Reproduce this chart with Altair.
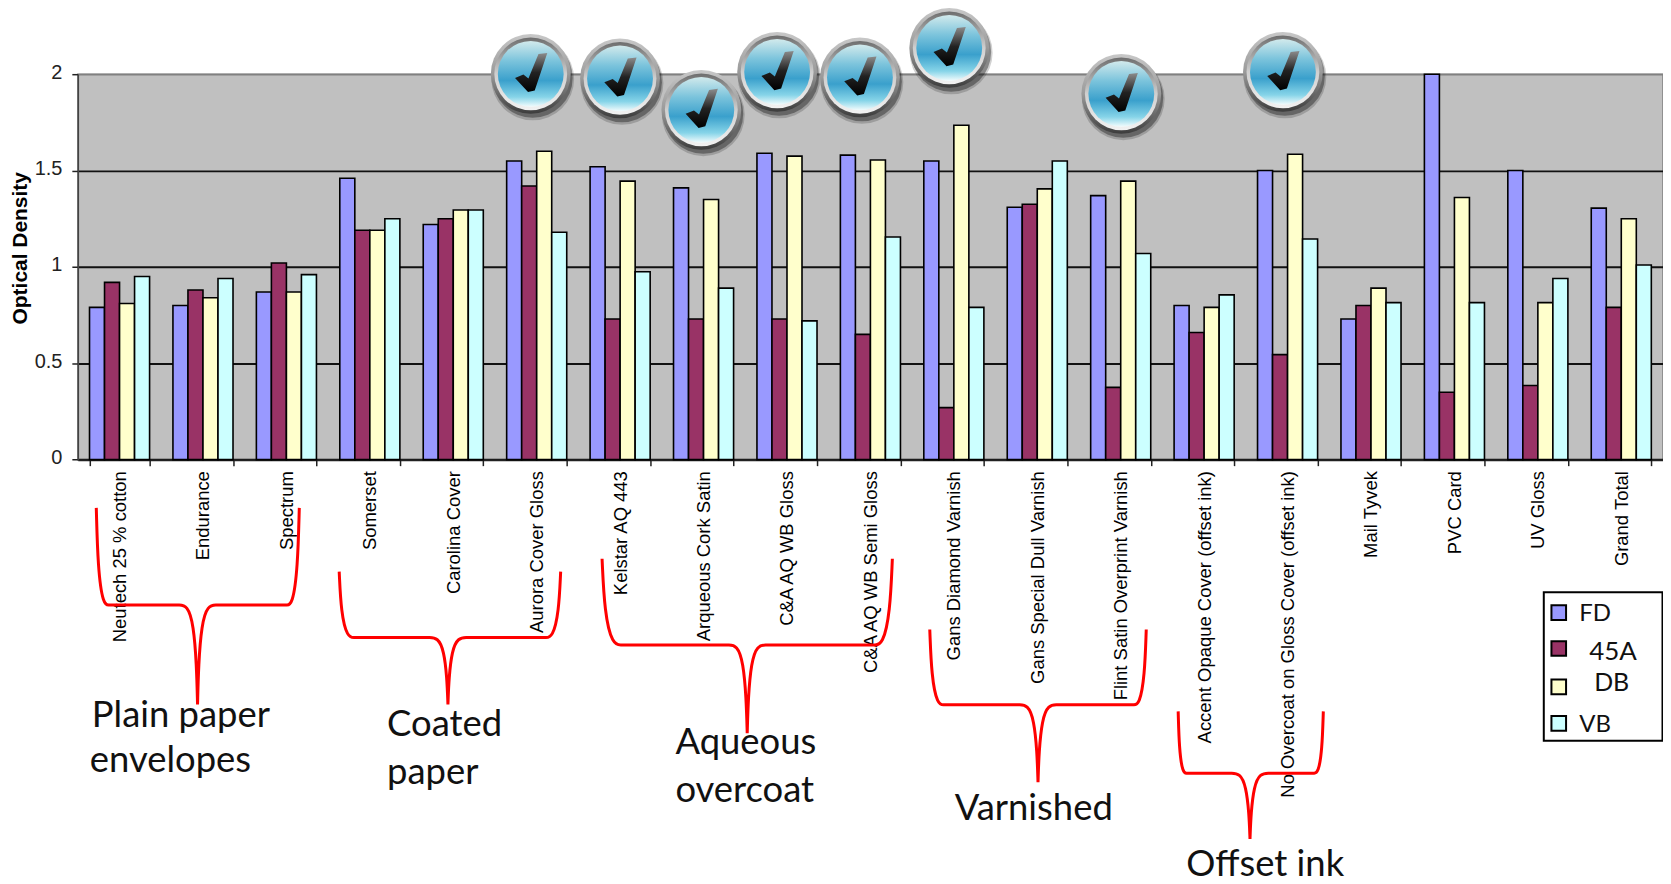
import altair as alt
import pandas as pd

categories = ["Neutech 25 % cotton", "Endurance", "Spectrum", "Somerset", "Carolina Cover",
              "Aurora Cover Gloss", "Kelstar AQ 443", "Arqueous Cork Satin", "C&A AQ WB Gloss",
              "C&A AQ WB Semi Gloss", "Gans Diamond Varnish", "Gans Special Dull Varnish",
              "Flint Satin Overprint Varnish", "Accent Opaque Cover (offset ink)",
              "No Overcoat on Gloss Cover (offset ink)", "Mail Tyvek", "PVC Card", "UV Gloss",
              "Grand Total"]
series_names = ["FD", "45A", "DB", "VB"]
series_colors = ["#9999FF", "#993366", "#FFFFCC", "#CCFFFF"]
fd = [0.79, 0.80, 0.87, 1.46, 1.22, 1.55, 1.52, 1.41, 1.59, 1.58, 1.55, 1.31, 1.37, 0.80, 1.50, 0.73, 2.00, 1.50, 1.305]
a45 = [0.92, 0.88, 1.02, 1.19, 1.25, 1.42, 0.73, 0.73, 0.73, 0.65, 0.27, 1.325, 0.375, 0.66, 0.545, 0.80, 0.35, 0.385, 0.79]
db = [0.81, 0.84, 0.87, 1.19, 1.295, 1.60, 1.445, 1.35, 1.575, 1.555, 1.735, 1.405, 1.445, 0.79, 1.585, 0.89, 1.36, 0.815, 1.25]
vb = [0.95, 0.94, 0.96, 1.25, 1.295, 1.18, 0.975, 0.89, 0.72, 1.155, 0.79, 1.55, 1.07, 0.855, 1.145, 0.815, 0.815, 0.94, 1.01]

# annotation texts: text, left, baseline (page pixels)
note_text = ["Plain paper", "envelopes", "Coated", "paper", "Aqueous", "overcoat", "Varnished", "Offset ink"]
note_x = [92, 90, 388, 388, 677, 677, 957, 1189]
note_y = [728, 773, 737, 785, 755, 803, 821, 877.5]

# braces: xl, corner-l, mid, corner-r, xr, ytop, ybar, ytip (page pixels)
braces = [
    (96.5, 110, 198, 286.5, 300, 508, 605.5, 705),
    (340, 356, 449, 546, 562, 572, 638, 705),
    (603.5, 624, 749, 875.5, 894.5, 559, 645.5, 734),
    (932, 947, 1040.5, 1135.5, 1149, 630, 705.5, 783),
    (1181, 1190, 1253, 1316.5, 1326.5, 712, 774, 840),
]
# check badges: centres (page pixels)
badge_x = [532, 621.5, 703, 779, 862, 951.5, 1124, 1286]
badge_y = [73, 77.5, 109, 71, 76.5, 47, 93, 71]

# hand-placed key (page pixels)
key_box = {"x": 1547.5, "x2": 1666.5, "y": 592.5, "y2": 741.5}
key_swatch_x = [1562.5, 1562.5, 1562.5, 1562.5]
key_swatch_y = [613, 649, 687.5, 724]
key_label_x = [1583, 1593, 1598, 1583]
key_label_y = [621.5, 661, 691.5, 732.5]
key_label_fs = [24, 26, 25, 24]

PX0, PY0, W, H = 78, 73.3, 1589, 386.4

rows = []
for name, vals in zip(series_names, [fd, a45, db, vb]):
    for c, v in zip(categories, vals):
        rows.append({"category": c, "series": name, "value": v})
df = pd.DataFrame(rows)

brace_rows = []
for i, (xl, cl, xm, cr, xr, yt, yb, ytip) in enumerate(braces):
    dy, dt = yb - yt, ytip - yb
    left = [(xl, yt), (xl, yt), (xl + (cl - xl) * 0.12, yt + dy * 0.62), (xl + (cl - xl) * 0.5, yb), (cl, yb), (cl, yb),
            (xm - 20, yb), (xm - 20, yb), (xm - 10, yb), (xm - 4, yb + dt * 0.2), (xm - 1, yb + dt * 0.6)]
    right = [(2 * xm - x, y) for x, y in left[6:]][::-1] + [(cr, yb), (cr, yb), (xr - (xr - cr) * 0.5, yb),
                                                            (xr - (xr - cr) * 0.12, yt + dy * 0.62), (xr, yt), (xr, yt)]
    pts = left + [(xm, ytip)] * 3 + right
    for j, (px, py) in enumerate(pts):
        brace_rows.append({"b": i, "o": j, "px": px, "py": py})
brace_df = pd.DataFrame(brace_rows)
note_df = pd.DataFrame({"t": note_text, "px": note_x, "py": note_y})
badge_df = pd.DataFrame({"px": badge_x, "py": badge_y})
key_df = pd.DataFrame({"series": series_names, "px": key_swatch_x, "py": key_swatch_y,
                       "lx": key_label_x, "ly": key_label_y, "fs": key_label_fs})

px_scale = alt.Scale(domain=[PX0, PX0 + W], range=[0, W], nice=False, zero=False)
py_scale = alt.Scale(domain=[PY0, PY0 + H], range=[0, H], nice=False, zero=False)
pxX = alt.X("px:Q", scale=px_scale, axis=None)
pxY = alt.Y("py:Q", scale=py_scale, axis=None)
color_enc = alt.Color("series:N", sort=series_names, legend=None,
                      scale=alt.Scale(domain=series_names, range=series_colors))

bars = alt.Chart(df).mark_bar(stroke="black", strokeWidth=1.6).encode(
    x=alt.X("category:N", sort=categories, title=None,
            scale=alt.Scale(paddingInner=0.28, paddingOuter=0.14),
            axis=alt.Axis(labelAngle=-90, labelAlign="right", labelBaseline="middle", labelFontSize=18.5,
                          labelFont="Liberation Sans", labelColor="black", labelPadding=5, labelLimit=500,
                          tickSize=6, tickBand="extent", tickColor="#222", domainColor="#222", domainWidth=2,
                          tickWidth=1.5, labelOverlap=False, grid=False)),
    xOffset=alt.XOffset("series:N", sort=series_names),
    y=alt.Y("value:Q", scale=alt.Scale(domain=[0, 2], nice=False),
            axis=alt.Axis(values=[0, 0.5, 1, 1.5, 2], format="~g", title="Optical Density", titleFont="Liberation Sans",
                          titleFontSize=21, titleFontWeight="bold", titleColor="black", titleX=-57.5, titleY=174,
                          titleBaseline="middle", titleAlign="center", labelFont="Liberation Sans", labelFontSize=20,
                          labelColor="#222", labelPadding=10, labelOffset=-2, tickSize=6, tickColor="#222", tickWidth=1.5,
                          domainColor="#444", domainWidth=1.5, grid=True, gridWidth=1.8,
                          gridColor={"condition": {"test": "datum.value === 2", "value": "#808080"}, "value": "#111111"})),
    color=color_enc,
)

brace_layer = alt.Chart(brace_df).mark_line(color="#FF0000", strokeWidth=3, interpolate="basis").encode(
    x=pxX, y=pxY, detail="b:N", order="o:Q")

note_layer = alt.Chart(note_df).mark_text(align="left", baseline="alphabetic", font="Lato", fontSize=36.5, color="#111").encode(
    x=pxX, y=pxY, text="t:N")

key_box_layer = alt.Chart(pd.DataFrame([key_box])).mark_rect(fill="white", stroke="black", strokeWidth=2).encode(
    x=alt.X("x:Q", scale=px_scale, axis=None), x2="x2:Q",
    y=alt.Y("y:Q", scale=py_scale, axis=None), y2="y2:Q")
key_swatches = alt.Chart(key_df).mark_square(size=215, stroke="black", strokeWidth=2, opacity=1).encode(
    x=pxX, y=pxY, color=color_enc)
key_labels = alt.Chart(key_df).mark_text(align="left", baseline="alphabetic", font="Lato", color="#111").encode(
    x=alt.X("lx:Q", scale=px_scale, axis=None), y=alt.Y("ly:Q", scale=py_scale, axis=None),
    text="series:N", size=alt.Size("fs:Q", scale=None, legend=None))


def grad(*stops):
    return alt.LinearGradient(gradient="linear", x1=0, y1=0, x2=0, y2=1,
                              stops=[alt.GradientStop(offset=o, color=c) for o, c in stops])


def disc(r, fill, opacity=1, dx=0, dy=0):
    return alt.Chart(badge_df).mark_circle(size=4 * r * r, fill=fill, opacity=opacity, strokeWidth=0,
                                           xOffset=dx, yOffset=dy).encode(x=pxX, y=pxY)


check_path = "M-0.75 0.19 L-0.35 0.03 L-0.11 0.22 L0.37 -0.95 L0.79 -1 L0.19 0.79 L-0.13 0.87 Z"
check = alt.Chart(badge_df).mark_point(shape=check_path, size=1764, filled=True, opacity=1, strokeWidth=0,
                                       fill=grad((0, "#8c8c8c"), (0.5, "#222222"), (1, "#000000"))).encode(x=pxX, y=pxY)

badges = [
    disc(41.5, "#000000", 0.18, 2, 5),
    disc(40, "#000000", 0.35, 2, 4),
    disc(40, grad((0, "#c8c8c8"), (0.5, "#9a9a9a"), (1, "#3c3c3c"))),
    disc(36.5, grad((0, "#6e6e6e"), (0.5, "#cfcfcf"), (1, "#f2f2f2"))),
    disc(33, grad((0, "#d2eaec"), (0.3, "#7cc4dc"), (0.6, "#3aa0cc"), (0.85, "#86d4e8"), (1, "#f3fcfd"))),
    check,
]

chart = alt.layer(bars, *badges, brace_layer, note_layer, key_box_layer, key_swatches, key_labels).resolve_scale(
    x="independent", y="independent").properties(
    width=W, height=H,
    padding={"left": PX0 - 8, "top": PY0 - 8, "right": 0, "bottom": 426},
    autosize=alt.AutoSizeParams(type="none"),
    background="white",
).configure_view(fill="#C0C0C0", stroke="#808080", strokeWidth=1.5)

chart.save("out.html", embed_options={"renderer": "svg", "actions": False})
